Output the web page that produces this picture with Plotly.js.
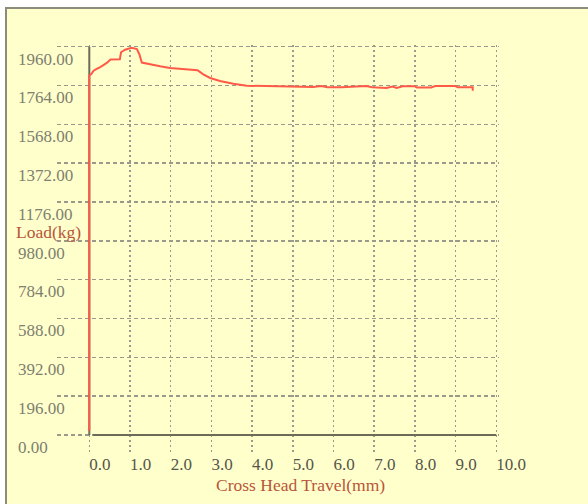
<!DOCTYPE html>
<html>
<head>
<meta charset="utf-8">
<script src="https://cdn.plot.ly/plotly-3.0.1.min.js"></script>
<style>
  html, body { margin: 0; padding: 0; background: #ffffff; width: 588px; height: 504px; overflow: hidden; }
  #frame { position: absolute; left: 5px; top: 7px; width: 583px; height: 497px;
           border-left: 2px solid #8c8c7c; border-top: 2px solid #8c8c7c; box-sizing: border-box; background: #ffffcc; }
  #chart { position: absolute; left: 0; top: 0; width: 581px; height: 495px; }
</style>
</head>
<body>
<div id="frame"><div id="chart"></div></div>
<script>
// Data
const travelMm = [0, 0, 0.05, 0.1, 0.18, 0.26, 0.43, 0.52, 0.75, 0.78, 0.88, 1.04, 1.17, 1.23, 1.29, 1.42, 1.74, 1.98, 2.39, 2.66, 2.80, 2.97, 3.21, 3.54, 3.87, 4.3, 4.7, 5.0, 5.5, 5.7, 5.85, 6.2, 6.8, 6.95, 7.3, 7.45, 7.55, 7.7, 8.0, 8.05, 8.4, 8.5, 9.0, 9.05, 9.42, 9.42];
const loadKg   = [20, 1815, 1822, 1838, 1848, 1856, 1878, 1895, 1896, 1932, 1945, 1954, 1948, 1922, 1880, 1874, 1861, 1853, 1847, 1841, 1820, 1802, 1787, 1773, 1763, 1761, 1760, 1756, 1756, 1761, 1755, 1755, 1761, 1755, 1752, 1759, 1752, 1760, 1760, 1754, 1754, 1761, 1761, 1755, 1755, 1738];

const xTickStep = 1;      // mm
const yTickStep = 196;    // kg
const xTitle = 'Cross Head Travel(mm)';
const yTitle = 'Load(kg)';

const serif = 'Liberation Serif, Times New Roman, serif';
const gridColor = '#9a9a8c';
const axisColor = '#6b6b58';

const trace = {
  x: travelMm,
  y: loadKg,
  type: 'scatter',
  mode: 'lines',
  line: { color: '#ff5a48', width: 2 },
  hoverinfo: 'skip'
};

const layout = {
  width: 581,
  height: 495,
  margin: { l: 10, r: 89, t: 36, b: 52 },
  paper_bgcolor: '#ffffcc',
  plot_bgcolor: '#ffffcc',
  showlegend: false,
  xaxis: {
    domain: [0.08299, 1],
    range: [-0.7936, 10.066],
    tick0: 0,
    dtick: xTickStep,
    tickformat: '.1f',
    showgrid: true,
    gridcolor: gridColor,
    gridwidth: 1.5,
    griddash: '2px,3px',
    zeroline: false,
    showline: false,
    ticks: '',
    ticklabelposition: 'outside right',
    tickfont: { family: serif, size: 17, color: '#55554a' },
    fixedrange: true
  },
  yaxis: {
    anchor: 'free',
    position: 0,
    side: 'right',
    range: [-86.4, 1968.6],
    tick0: 0,
    dtick: yTickStep,
    tickformat: '.2f',
    showgrid: true,
    gridcolor: gridColor,
    gridwidth: 1.5,
    griddash: '4px,3px',
    zeroline: false,
    showline: false,
    ticks: '',
    ticklabelposition: 'outside bottom',
    tickfont: { family: serif, size: 17, color: '#80806f' },
    fixedrange: true
  },
  shapes: [
    { type: 'line', xref: 'x', yref: 'y', x0: 0.09, x1: 10, y0: 0, y1: 0,
      line: { color: axisColor, width: 2 }, layer: 'between' },
    { type: 'line', xref: 'x', yref: 'y', x0: 0, x1: 0, y0: 0, y1: 1960,
      line: { color: axisColor, width: 2 }, layer: 'between' }
  ],
  annotations: [
    { text: yTitle, xref: 'paper', yref: 'paper', x: 0.0649, y: 0.5413,
      xanchor: 'center', yanchor: 'middle', showarrow: false,
      font: { family: serif, size: 17.5, color: '#b8553a' } },
    { text: xTitle, xref: 'paper', yref: 'paper', x: 0.5892, y: -0.0811,
      xanchor: 'center', yanchor: 'middle', showarrow: false,
      font: { family: serif, size: 17.5, color: '#b8553a' } }
  ]
};

Plotly.newPlot('chart', [trace], layout, { displayModeBar: false, staticPlot: true });
</script>
</body>
</html>
